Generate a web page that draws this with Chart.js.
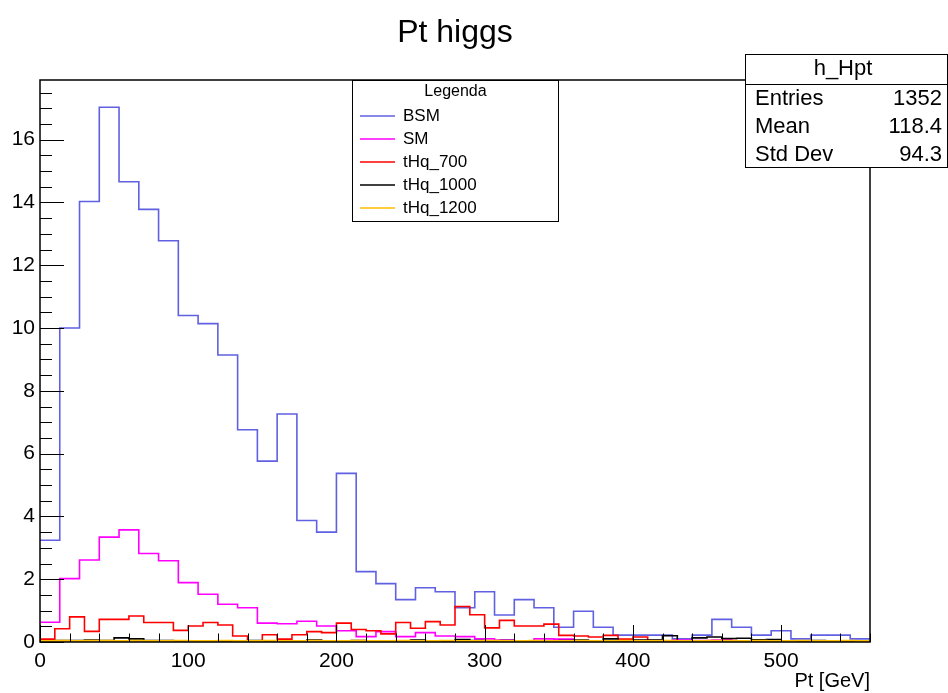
<!DOCTYPE html>
<html>
<head>
<meta charset="utf-8">
<script src="https://cdn.jsdelivr.net/npm/chart.js@4"></script>
<style>
  body { margin: 0; background: #fff; }
  canvas { display: block; }
</style>
</head>
<body>
<canvas id="hpt" width="948" height="693"></canvas>
<script>
// bin widths in GeV
var bsmBinWidth = 40 / 3;
var tHqBinWidth = 10;

// BSM / SM : 42 bins of 13.33 GeV (0 - 560)
var bsmValues = [3.24, 10.0, 14.03, 17.03, 14.66, 13.78, 12.78, 10.40, 10.14, 9.14,
  6.76, 5.76, 7.26, 3.87, 3.50, 5.37, 2.24, 1.86, 1.35, 1.73,
  1.60, 1.09, 1.60, 0.86, 1.35, 1.09, 0.47, 0.98, 0.47, 0.22,
  0.22, 0.22, 0.10, 0.22, 0.72, 0.47, 0.22, 0.36, 0.10, 0.22, 0.22, 0.10];
var smValues = [0.63, 2.02, 2.61, 3.34, 3.57, 2.82, 2.59, 1.89, 1.52, 1.20,
  1.09, 0.60, 0.58, 0.66, 0.51, 0.36, 0.17, 0.33, 0.17, 0.30,
  0.19, 0.17, 0.10, 0.06, 0.04, 0.10, 0.09, 0.02, 0.03, 0.02,
  0.02, 0.03, 0.06, 0.05, 0.06, 0.02, 0.02, 0.03, 0.02, 0.02, 0.02, 0.02];

// tHq samples : 56 bins of 10 GeV (0 - 560)
var tHq700Values = [0.09, 0.42, 0.80, 0.34, 0.72, 0.72, 0.83, 0.62, 0.62, 0.37,
  0.51, 0.62, 0.54, 0.19, 0.04, 0.23, 0.09, 0.23, 0.33, 0.30,
  0.60, 0.40, 0.36, 0.26, 0.62, 0.44, 0.65, 0.54, 1.13, 0.87,
  0.45, 0.69, 0.51, 0.51, 0.57, 0.21, 0.19, 0.16, 0.21, 0.09,
  0.16, 0.05, 0.03, 0.02, 0.03, 0.02, 0.05, 0.03, 0.02, 0.03,
  0.02, 0.03, 0.02, 0.02, 0.03, 0.02];
var tHq1000Values = [0.02, 0.05, 0.05, 0.06, 0.05, 0.13, 0.10, 0.05, 0.05, 0.03,
  0.03, 0.04, 0.02, 0.03, 0.05, 0.03, 0.02, 0.04, 0.06, 0.03,
  0.02, 0.05, 0.03, 0.02, 0.04, 0.06, 0.03, 0.02, 0.08, 0.05,
  0.03, 0.05, 0.02, 0.04, 0.03, 0.05, 0.06, 0.04, 0.10, 0.03,
  0.06, 0.06, 0.20, 0.03, 0.13, 0.16, 0.11, 0.12, 0.07, 0.08,
  0.04, 0.03, 0.05, 0.03, 0.02, 0.03];
var tHq1200Values = [0.03, 0.04, 0.03, 0.04, 0.04, 0.03, 0.04, 0.03, 0.03, 0.04,
  0.03, 0.03, 0.04, 0.03, 0.03, 0.04, 0.03, 0.03, 0.04, 0.03,
  0.03, 0.04, 0.03, 0.03, 0.04, 0.03, 0.03, 0.04, 0.03, 0.03,
  0.04, 0.03, 0.03, 0.04, 0.03, 0.03, 0.04, 0.03, 0.03, 0.04,
  0.03, 0.03, 0.04, 0.03, 0.03, 0.04, 0.03, 0.03, 0.04, 0.03,
  0.03, 0.04, 0.03, 0.03, 0.04, 0.03];

var seriesNames = ["BSM", "SM", "tHq_700", "tHq_1000", "tHq_1200"];
var seriesColors = ["rgb(96,96,226)", "#ff00ff", "#ff0000", "#000000", "#ffbe00"];
var seriesWidths = [1.6, 1.6, 1.6, 1.6, 2];

var statsTitle = "h_Hpt";
var statsLabels = ["Entries", "Mean", "Std Dev"];
var statsValues = ["1352", "118.4", "94.3"];

var xMax = 560;
var yMax = 17.9;
var FONT = "'Liberation Sans', Arial, sans-serif";

// histogram outline: one point per left bin edge + closing point
function histPoints(values, width) {
  var pts = values.map(function (v, i) { return { x: i * width, y: v }; });
  pts.push({ x: values.length * width, y: values[values.length - 1] });
  return pts;
}

function histDataset(i, values, width) {
  return {
    label: seriesNames[i],
    data: histPoints(values, width),
    borderColor: seriesColors[i],
    borderWidth: seriesWidths[i],
    stepped: 'before',
    pointRadius: 0,
    fill: false,
    order: 5 - i
  };
}

// ROOT-like frame, inside ticks, title, legend and stats box
var rootStyle = {
  id: 'rootStyle',
  afterDatasetsDraw: function (chart) {
    var ctx = chart.ctx, a = chart.chartArea;
    var xs = chart.scales.x, ys = chart.scales.y;
    ctx.save();
    ctx.strokeStyle = '#000';
    ctx.lineWidth = 1;
    ctx.beginPath();
    for (var v = 0; v <= yMax + 1e-6; v += 0.5) {
      var py = Math.round(ys.getPixelForValue(v)) + 0.5;
      var len = (Math.abs(v / 2 - Math.round(v / 2)) < 1e-6) ? 24 : 12;
      ctx.moveTo(a.left, py);
      ctx.lineTo(a.left + len, py);
    }
    for (var u = 0; u <= xMax; u += 20) {
      var px = Math.round(xs.getPixelForValue(u)) + 0.5;
      var l2 = (u % 100 === 0) ? 17 : 8.5;
      ctx.moveTo(px, a.bottom);
      ctx.lineTo(px, a.bottom - l2);
    }
    ctx.stroke();
    ctx.lineWidth = 1.5;
    ctx.strokeRect(Math.round(a.left), Math.round(a.top), Math.round(a.right - a.left), Math.round(a.bottom - a.top));
    ctx.restore();
  },
  afterDraw: function (chart) {
    var ctx = chart.ctx, a = chart.chartArea;
    ctx.save();
    ctx.fillStyle = '#000';
    ctx.textBaseline = 'middle';

    // title
    ctx.font = '32px ' + FONT;
    ctx.textAlign = 'center';
    ctx.fillText('Pt higgs', (a.left + a.right) / 2, 33);

    // legend
    var lx = 352.5, ly = 80.5, lw = 206, lh = 141;
    ctx.fillStyle = '#fff';
    ctx.fillRect(lx, ly, lw, lh);
    ctx.strokeStyle = '#000';
    ctx.lineWidth = 1;
    ctx.strokeRect(lx, ly, lw, lh);
    ctx.fillStyle = '#000';
    ctx.font = '16px ' + FONT;
    ctx.fillText('Legenda', lx + lw / 2, 92);
    ctx.textAlign = 'left';
    ctx.font = '17px ' + FONT;
    seriesNames.forEach(function (name, i) {
      var ey = 116 + i * 23;
      ctx.strokeStyle = seriesColors[i];
      ctx.lineWidth = 1.5;
      ctx.beginPath();
      ctx.moveTo(360, ey);
      ctx.lineTo(395, ey);
      ctx.stroke();
      ctx.fillStyle = '#000';
      ctx.fillText(name, 403, ey);
    });

    // stats box
    var sx = 745.5, sy = 54.5, sw = 202, sh = 113;
    ctx.fillStyle = '#fff';
    ctx.fillRect(sx, sy, sw, sh);
    ctx.strokeStyle = '#000';
    ctx.lineWidth = 1;
    ctx.strokeRect(sx, sy, sw, sh);
    ctx.beginPath();
    ctx.moveTo(sx, 84.5);
    ctx.lineTo(sx + sw, 84.5);
    ctx.stroke();
    ctx.fillStyle = '#000';
    ctx.font = '22px ' + FONT;
    ctx.textAlign = 'center';
    ctx.fillText(statsTitle, 843, 69);
    var rowsY = [99, 127, 155];
    statsLabels.forEach(function (lab, i) {
      ctx.textAlign = 'left';
      ctx.fillText(lab, 755, rowsY[i]);
      ctx.textAlign = 'right';
      ctx.fillText(statsValues[i], 942, rowsY[i]);
    });
    ctx.restore();
  }
};

var ctx = document.getElementById('hpt');

var hptChart = new Chart(ctx, {
  type: 'line',
  data: {
    datasets: [
      histDataset(0, bsmValues, bsmBinWidth),
      histDataset(1, smValues, bsmBinWidth),
      histDataset(2, tHq700Values, tHqBinWidth),
      histDataset(3, tHq1000Values, tHqBinWidth),
      histDataset(4, tHq1200Values, tHqBinWidth)
    ]
  },
  options: {
    responsive: false,
    animation: false,
    devicePixelRatio: 1,
    layout: { padding: { top: 80, right: 78, left: 0, bottom: 0 } },
    plugins: {
      legend: { display: false },
      tooltip: { enabled: false },
      title: { display: false }
    },
    scales: {
      x: {
        type: 'linear',
        min: 0,
        max: xMax,
        afterFit: function (s) { s.height = 51; },
        grid: { display: false, drawTicks: false },
        border: { display: false },
        ticks: {
          stepSize: 100,
          autoSkip: false,
          maxRotation: 0,
          padding: 7,
          color: '#000',
          font: { family: FONT, size: 21 },
          callback: function (v) { return v % 100 === 0 ? v : ''; }
        },
        title: {
          display: true,
          text: 'Pt [GeV]',
          align: 'end',
          color: '#000',
          padding: 0,
          font: { family: FONT, size: 20 }
        }
      },
      y: {
        min: 0,
        max: yMax,
        afterFit: function (s) { s.width = 40; },
        grid: { display: false, drawTicks: false },
        border: { display: false },
        ticks: {
          stepSize: 2,
          padding: 5,
          color: '#000',
          font: { family: FONT, size: 21 },
          callback: function (v) { return Math.abs(v / 2 - Math.round(v / 2)) < 1e-6 ? v : ''; }
        }
      }
    }
  },
  plugins: [rootStyle]
});
</script>
</body>
</html>
